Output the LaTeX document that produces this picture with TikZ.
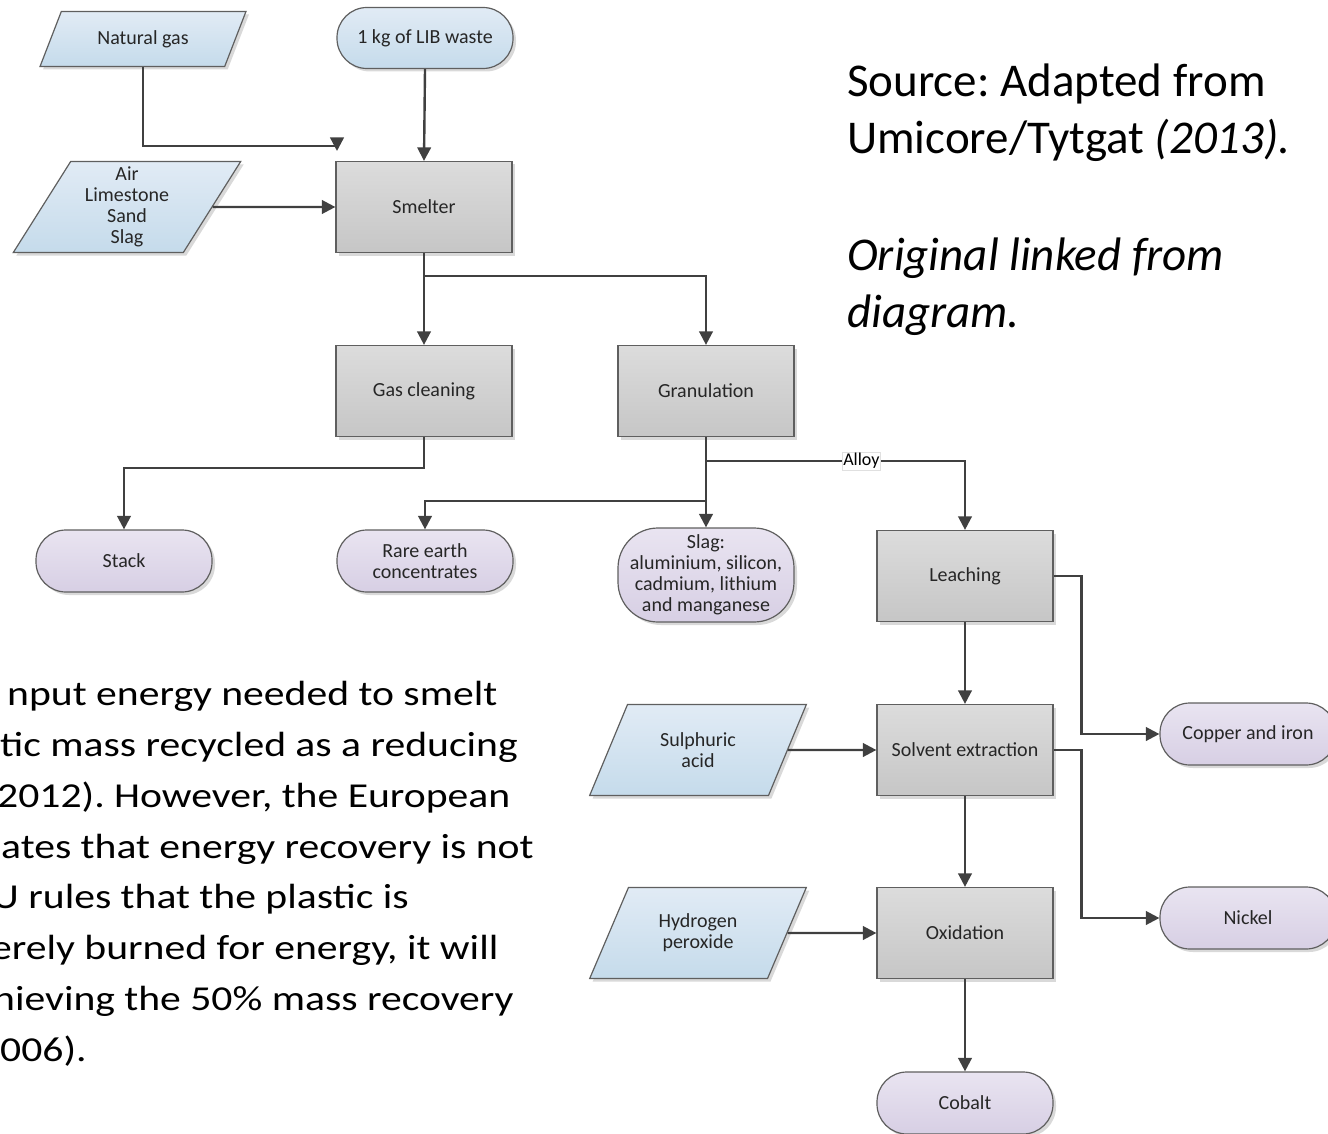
\documentclass[tikz,border=0pt]{standalone}
\usepackage{fontspec}
\setmainfont{Carlito}
\newfontfamily\parafont[FakeStretch=1.19]{Carlito}
\usetikzlibrary{shapes.geometric,arrows.meta,shadows}
\frenchspacing

\definecolor{inblueA}{HTML}{E1EBF5}
\definecolor{inblueB}{HTML}{C5DBEB}
\definecolor{procgrayA}{HTML}{DCDCDC}
\definecolor{procgrayB}{HTML}{C6C6C6}
\definecolor{outlavA}{HTML}{E9E4F1}
\definecolor{outlavB}{HTML}{D7CFE4}
\definecolor{edgegray}{HTML}{5F5F5F}
\definecolor{linegray}{HTML}{404040}

\tikzset{
  boxtext/.style={font=\fontsize{20}{21}\selectfont, text=black!85, align=center},
  softshadow/.style={drop shadow={shadow xshift=3pt, shadow yshift=-3pt, fill=black, opacity=0.15}},
  inputbox/.style={boxtext, trapezium, trapezium left angle=62, trapezium right angle=118,
    trapezium stretches=true, draw=edgegray, line width=1.2pt, top color=inblueA, bottom color=inblueB, softshadow},
  procbox/.style={boxtext, rectangle, draw=edgegray, line width=1.2pt, top color=procgrayA,
    bottom color=procgrayB, minimum width=176pt, minimum height=91pt, softshadow},
  outbox/.style={boxtext, rectangle, rounded corners=30pt, draw=edgegray, line width=1.2pt,
    top color=outlavA, bottom color=outlavB, minimum width=176pt, minimum height=62pt, softshadow},
  flow/.style={draw=linegray, line width=2.4pt, -{Triangle[length=13.5pt,width=13.5pt]}},
  bigtext/.style={anchor=base west, inner sep=0pt, font=\fontsize{47}{57}\selectfont},
  paratext/.style={anchor=base west, inner sep=0pt, font=\parafont\fontsize{35}{51}\selectfont},
}

\begin{document}
\begin{tikzpicture}[x=1pt,y=-1pt]
\useasboundingbox (0,0) rectangle (1328,1134);

% inputs
\node[inputbox, minimum width=206pt, minimum height=55pt] (natgas) at (143,39) {Natural gas};
\node[outbox, top color=inblueA, bottom color=inblueB, minimum width=176pt, minimum height=61pt] (libwaste) at (425,38) {1 kg of LIB waste};
\node[inputbox, minimum width=228pt, minimum height=91pt] (airmix) at (127,207) {Air\\Limestone\\Sand\\Slag};

% smelting
\node[procbox] (smelter) at (424,207) {Smelter};
\node[procbox] (gasclean) at (424,391) {Gas cleaning};
\node[procbox] (granul) at (706,391) {Granulation};

% first outputs
\node[outbox] (stack) at (124,561) {Stack};
\node[outbox] (rareearth) at (425,561) {Rare earth\\concentrates};
\node[outbox, minimum height=94pt, rounded corners=40pt] (slag) at (706,575) {Slag:\\aluminium, silicon,\\cadmium, lithium\\and manganese};

% hydrometallurgy
\node[procbox] (leach) at (965,576) {Leaching};
\node[procbox] (solvent) at (965,750) {Solvent extraction};
\node[procbox] (oxid) at (965,933) {Oxidation};
\node[inputbox, minimum width=217pt, minimum height=91pt] (sulph) at (698,750) {Sulphuric\\acid};
\node[inputbox, minimum width=217pt, minimum height=91pt] (hydro) at (698,933) {Hydrogen\\peroxide};
\node[outbox] (cobalt) at (965,1103) {Cobalt};
\node[outbox] (copper) at (1248,734) {Copper and iron};
\node[outbox] (nickel) at (1248,918) {Nickel};

\coordinate (gastip) at (337,151);

% connectors
\draw[flow] (natgas.south) |- (337,146) -- (gastip);
\draw[flow] (libwaste.south) -- (smelter.north);
\draw[flow] (airmix.east) -- (smelter.west);
\draw[flow] (smelter.south) -- (gasclean.north);
\draw[flow] (smelter.south) ++(0,23) -| (granul.north);
\draw[flow] (gasclean.south) -- ++(0,31) -| (stack.north);
\draw[flow] (granul.south) -- (slag.north);
\draw[flow] (granul.south) ++(0,64) -| (rareearth.north);
\draw[flow] (granul.south) ++(0,24) -| node[pos=0.3, fill=white, draw=black!12, line width=0.4pt,
  inner sep=1pt, font=\fontsize{18}{20}\selectfont] {Alloy} (leach.north);
\draw[flow] (leach.south) -- (solvent.north);
\draw[flow] (solvent.south) -- (oxid.north);
\draw[flow] (oxid.south) -- (cobalt.north);
\draw[flow] (sulph.east) -- (solvent.west);
\draw[flow] (hydro.east) -- (oxid.west);
\draw[flow] (leach.east) -- ++(28,0) |- (copper.west);
\draw[flow] (solvent.east) -- ++(28,0) |- (nickel.west);

% source note
\node[bigtext] (src1) at (847,97) {Source: Adapted from};
\node[bigtext] (src2) at (847,154) {Umicore/Tytgat \textit{(2013).}};
\node[bigtext] (src3) at (847,270) {\textit{Original linked from}};
\node[bigtext] (src4) at (847,327) {\textit{diagram.}};

% cut paragraph
\node[paratext] (par1) at (7,705) {nput energy needed to smelt};
\node[paratext] (par2) at (0,756) {tic mass recycled as a reducing};
\node[paratext] (par3) at (-3,807) {2012). However, the European};
\node[paratext] (par4) at (1,858) {ates that energy recovery is not};
\node[paratext] (par5) at (-8,908) {U rules that the plastic is};
\node[paratext] (par6) at (-9,959) {erely burned for energy, it will};
\node[paratext] (par7) at (-7,1010) {hieving the 50\% mass recovery};
\node[paratext] (par8) at (0,1061) {006).};
\end{tikzpicture}
\end{document}
